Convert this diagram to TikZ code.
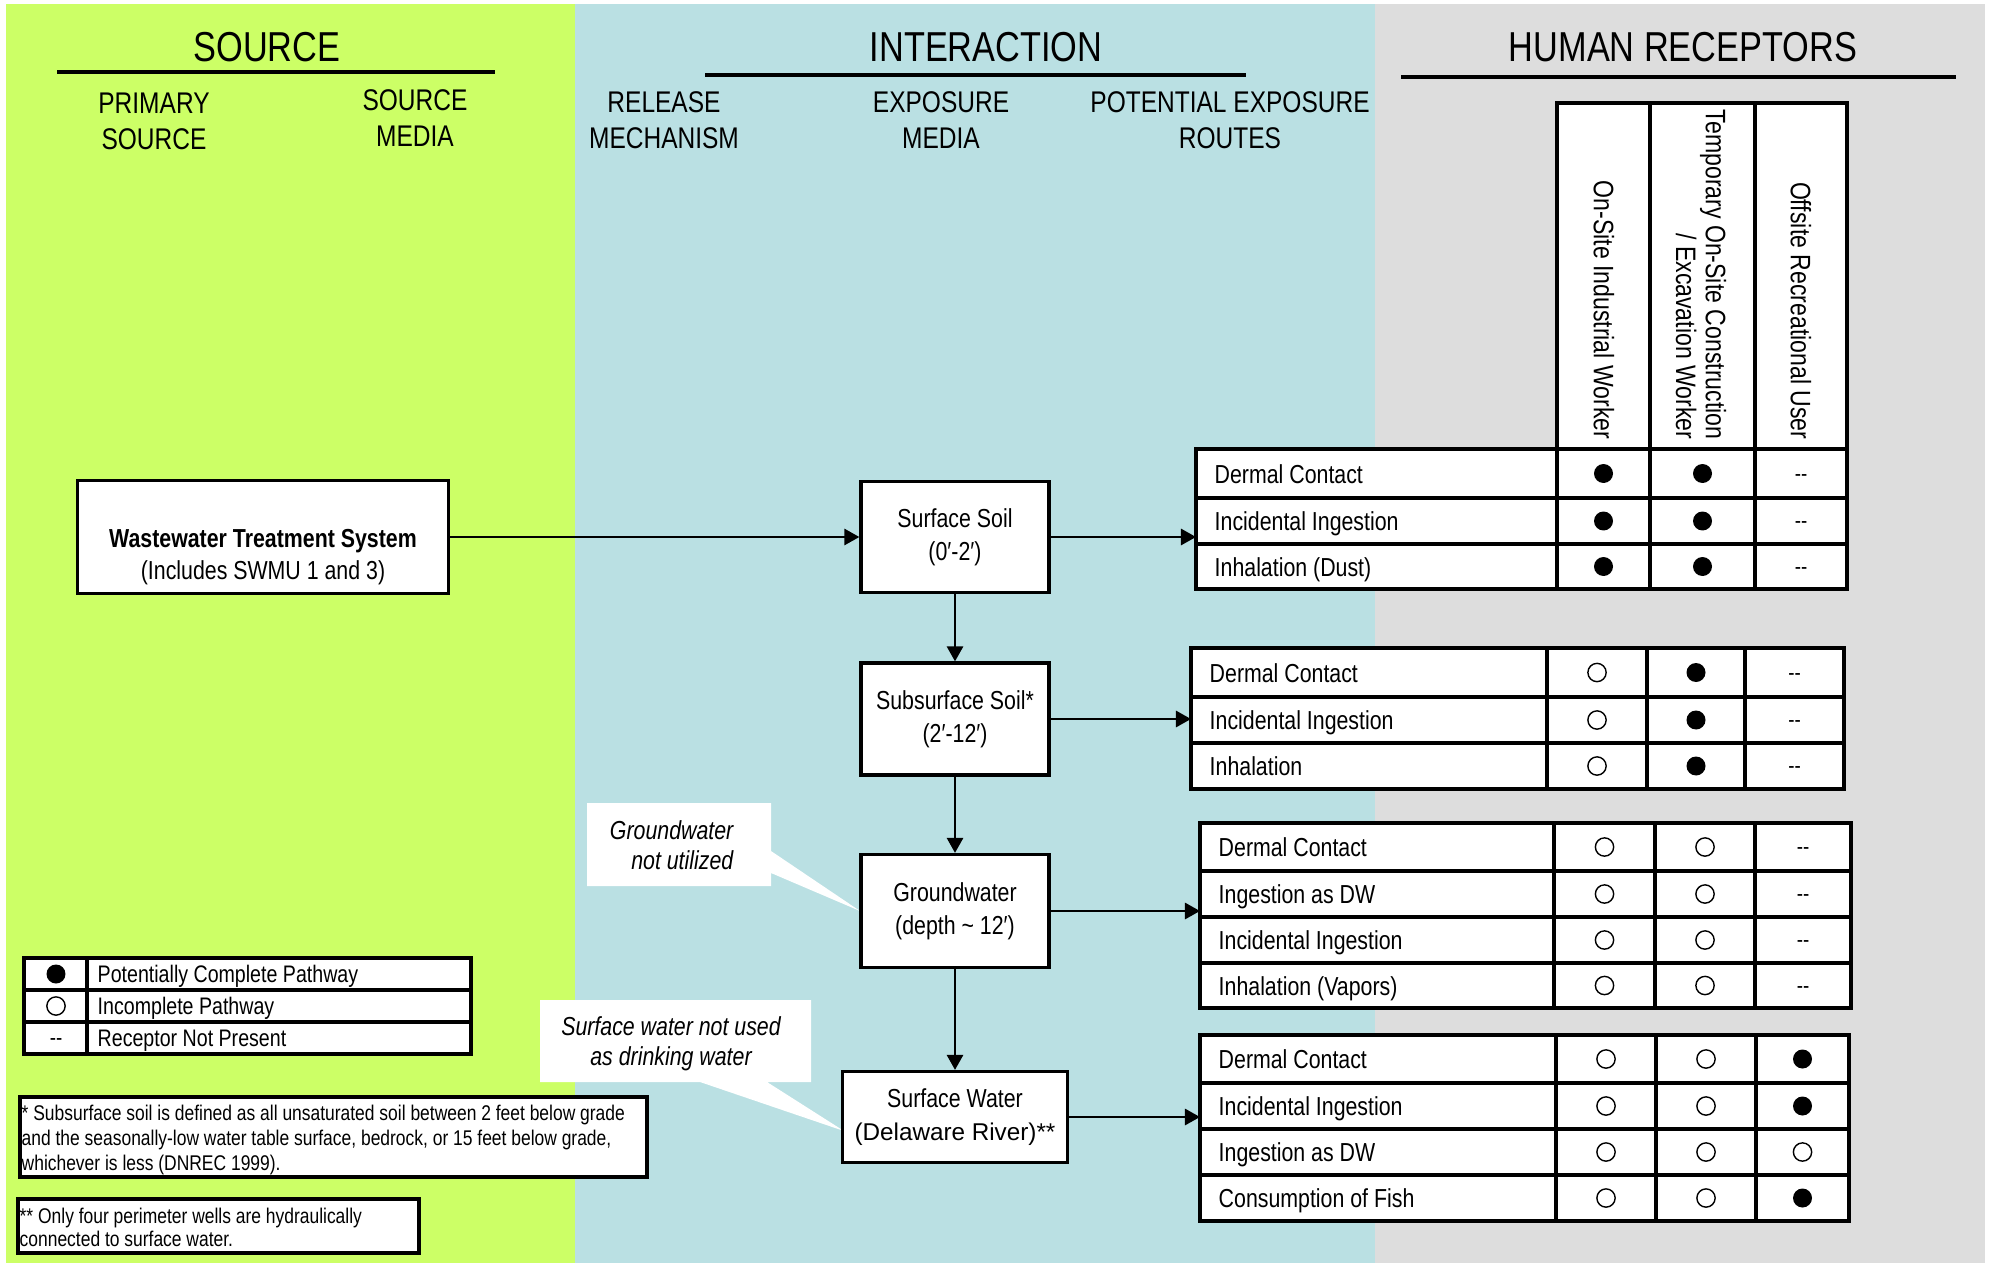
\documentclass[tikz,border=0pt]{standalone}
\usepackage{fontspec}
\setmainfont{Liberation Sans}[FakeStretch=0.82]
\newfontfamily\widefont{Liberation Sans}
\usetikzlibrary{arrows.meta,positioning}
\definecolor{sourcegreen}{RGB}{204,255,102}
\definecolor{interblue}{RGB}{186,224,227}
\definecolor{receptorgray}{RGB}{221,221,221}
\tikzset{head/.style={inner sep=0,font=\fontsize{11.9}{14}\selectfont},
  subhead/.style={inner sep=0,align=center,font=\fontsize{8.5}{10.2}\selectfont},
  underline/.style={line width=0.95pt},
  media/.style={draw,fill=white,line width=0.9pt,inner sep=0,align=center,font=\fontsize{7.4}{9.4}\selectfont},
  flow/.style={-{Triangle[length=4.3pt,width=4.6pt]},line width=0.75pt},
  tableline/.style={line width=1pt},
  route/.style={anchor=base west,inner sep=0,font=\fontsize{7.4}{9}\selectfont},
  dotfull/.style={circle,fill=black,inner sep=0,minimum size=5.4pt},
  dotopen/.style={circle,draw,line width=0.4pt,inner sep=0,minimum size=5.2pt},
  dotnone/.style={inner sep=0,font=\fontsize{6.5}{7}\selectfont},
  rothead/.style={rotate=-90,anchor=east,align=right,inner sep=0,font=\fontsize{8}{8.5}\selectfont},
  callout/.style={inner sep=0,font=\fontsize{7.4}{8.5}\selectfont\itshape},
  legendtext/.style={anchor=base west,inner sep=0,font=\fontsize{6.8}{8}\selectfont},
  footnote/.style={anchor=north west,inner sep=0,align=left,font=\fontsize{6.05}{7.1}\selectfont}}

\begin{document}
\begin{tikzpicture}[x=0.01cm,y=-0.01cm]

\useasboundingbox (0,0) rectangle (1992,1264);

% The three bands
\fill[sourcegreen] (6,4) rectangle (575,1263);
\fill[interblue] (575,4) rectangle (1375,1263);
\fill[receptorgray] (1375,4) rectangle (1985,1263);

% Headings
\node[head] (source-head) at (267,47) {SOURCE};
\node[head] (interaction-head) at (986,47) {INTERACTION};
\node[head] (receptor-head) at (1683,47) {HUMAN RECEPTORS};
\draw[underline] (57,72) -- (495,72);
\draw[underline] (705,75) -- (1246,75);
\draw[underline] (1401,77) -- (1956,77);

\node[subhead] (primary-head) at (154,121) {PRIMARY\\SOURCE};
\node[subhead] (smedia-head) at (415,118) {SOURCE\\MEDIA};
\node[subhead] (release-head) at (664,120) {RELEASE\\MECHANISM};
\node[subhead] (emedia-head) at (941,120) {EXPOSURE\\MEDIA};
\node[subhead] (routes-head) at (1230,120) {POTENTIAL EXPOSURE\\ROUTES};

% Callouts
\fill[white] (587,803) -- (771,803) -- (771,851) -- (860,911) -- (771,873) -- (771,886) -- (587,886) -- cycle;
\node[callout,anchor=east,align=right] (gw-note) at (734,845) {Groundwater\\not utilized};
\fill[white] (540,1000) -- (811,1000) -- (811,1082) -- (767,1082) -- (844,1131) -- (700,1082) -- (540,1082) -- cycle;
\node[callout,align=center] (sw-note) at (671,1044) {Surface water not used\\as drinking water};

% Source and media boxes
\node[media,minimum width=3.70cm,minimum height=1.13cm] (wts) at (263,537) {};
\node[inner sep=0,align=center,font=\fontsize{7.4}{9.2}\selectfont] (wts-text) at (263,557)
  {\textbf{Wastewater Treatment System}\\(Includes SWMU 1 and 3)};
\node[media,minimum width=1.88cm,minimum height=1.11cm] (surface-soil) at (955,537) {Surface Soil\\(0′-2′)};
\node[media,minimum width=1.88cm,minimum height=1.12cm] (subsurface-soil) at (955,719) {Subsurface Soil*\\(2′-12′)};
\node[media,minimum width=1.88cm,minimum height=1.13cm] (groundwater) at (955,911) {Groundwater\\(depth \textasciitilde\ 12′)};
\node[media,minimum width=2.25cm,minimum height=0.91cm] (surface-water) at (955,1117)
  {Surface Water\\{\widefont\fontsize{6.9}{9}\selectfont (Delaware River)**}};

% Table inlets
\coordinate (t1-in) at (1196,537);
\coordinate (t2-in) at (1191,719);
\coordinate (t3-in) at (1200,911);
\coordinate (t4-in) at (1200,1117);

% Pathways
\draw[flow] (wts) -- (surface-soil);
\draw[flow] (surface-soil) -- (subsurface-soil);
\draw[flow] (subsurface-soil) -- (groundwater);
\draw[flow] (groundwater) -- (surface-water);
\draw[flow] (surface-soil) -- (t1-in);
\draw[flow] (subsurface-soil) -- (t2-in);
\draw[flow] (groundwater) -- (t3-in);
\draw[flow] (surface-water) -- (t4-in);

% Receptor heading cells
\draw[tableline,fill=white] (1557,103) rectangle (1847,449);
\draw[tableline] (1650,103) -- (1650,449);
\draw[tableline] (1755,103) -- (1755,449);
\node[rothead] (industrial) at (1604,440) {On-Site Industrial Worker};
\node[rothead] (construction) at (1701,440) {Temporary On-Site Construction\\/ Excavation Worker};
\node[rothead] (recreational) at (1801,440) {Offsite Recreational User};

% Table 1: surface soil
\draw[tableline,fill=white] (1196,449) rectangle (1847,589);
\draw[tableline] (1557,449) -- (1557,589) (1650,449) -- (1650,589) (1755,449) -- (1755,589);
\draw[tableline] (1196,498) -- (1847,498) (1196,544) -- (1847,544);
\node[route] (t1-dermal) at (1214,483) {Dermal Contact};
\node[dotfull] (t1-dermal-a) at (1603.5,473.5) {}; \node[dotfull] (t1-dermal-b) at (1702.5,473.5) {}; \node[dotnone] (t1-dermal-c) at (1801,478) {-{}-};
\node[route] (t1-ingest) at (1214,530) {Incidental Ingestion};
\node[dotfull] (t1-ingest-a) at (1603.5,521) {}; \node[dotfull] (t1-ingest-b) at (1702.5,521) {}; \node[dotnone] (t1-ingest-c) at (1801,525.5) {-{}-};
\node[route] (t1-inhale) at (1214,576) {Inhalation (Dust)};
\node[dotfull] (t1-inhale-a) at (1603.5,566.5) {}; \node[dotfull] (t1-inhale-b) at (1702.5,566.5) {}; \node[dotnone] (t1-inhale-c) at (1801,571) {-{}-};

% Table 2: subsurface soil
\draw[tableline,fill=white] (1191,648) rectangle (1844,789);
\draw[tableline] (1547,648) -- (1547,789) (1647,648) -- (1647,789) (1745,648) -- (1745,789);
\draw[tableline] (1191,697) -- (1844,697) (1191,743) -- (1844,743);
\node[route] (t2-dermal) at (1209,682) {Dermal Contact};
\node[dotopen] (t2-dermal-a) at (1597,672.5) {}; \node[dotfull] (t2-dermal-b) at (1696,672.5) {}; \node[dotnone] (t2-dermal-c) at (1794.5,677) {-{}-};
\node[route] (t2-ingest) at (1209,729) {Incidental Ingestion};
\node[dotopen] (t2-ingest-a) at (1597,720) {}; \node[dotfull] (t2-ingest-b) at (1696,720) {}; \node[dotnone] (t2-ingest-c) at (1794.5,724.5) {-{}-};
\node[route] (t2-inhale) at (1209,775) {Inhalation};
\node[dotopen] (t2-inhale-a) at (1597,766) {}; \node[dotfull] (t2-inhale-b) at (1696,766) {}; \node[dotnone] (t2-inhale-c) at (1794.5,770.5) {-{}-};

% Table 3: groundwater
\draw[tableline,fill=white] (1200,823) rectangle (1851,1008);
\draw[tableline] (1554,823) -- (1554,1008) (1655,823) -- (1655,1008) (1755,823) -- (1755,1008);
\draw[tableline] (1200,871) -- (1851,871) (1200,917) -- (1851,917) (1200,963) -- (1851,963);
\node[route] (t3-dermal) at (1218,856) {Dermal Contact};
\node[dotopen] (t3-dermal-a) at (1604.5,847) {}; \node[dotopen] (t3-dermal-b) at (1705,847) {}; \node[dotnone] (t3-dermal-c) at (1803,851.5) {-{}-};
\node[route] (t3-drink) at (1218,903) {Ingestion as DW};
\node[dotopen] (t3-drink-a) at (1604.5,894) {}; \node[dotopen] (t3-drink-b) at (1705,894) {}; \node[dotnone] (t3-drink-c) at (1803,898.5) {-{}-};
\node[route] (t3-ingest) at (1218,949) {Incidental Ingestion};
\node[dotopen] (t3-ingest-a) at (1604.5,940) {}; \node[dotopen] (t3-ingest-b) at (1705,940) {}; \node[dotnone] (t3-ingest-c) at (1803,944.5) {-{}-};
\node[route] (t3-inhale) at (1218,995) {Inhalation (Vapors)};
\node[dotopen] (t3-inhale-a) at (1604.5,985.5) {}; \node[dotopen] (t3-inhale-b) at (1705,985.5) {}; \node[dotnone] (t3-inhale-c) at (1803,990) {-{}-};

% Table 4: surface water
\draw[tableline,fill=white] (1200,1035) rectangle (1849,1221);
\draw[tableline] (1556,1035) -- (1556,1221) (1656,1035) -- (1656,1221) (1756,1035) -- (1756,1221);
\draw[tableline] (1200,1083) -- (1849,1083) (1200,1129) -- (1849,1129) (1200,1175) -- (1849,1175);
\node[route] (t4-dermal) at (1218,1068) {Dermal Contact};
\node[dotopen] (t4-dermal-a) at (1606,1059) {}; \node[dotopen] (t4-dermal-b) at (1706,1059) {}; \node[dotfull] (t4-dermal-c) at (1802.5,1059) {};
\node[route] (t4-ingest) at (1218,1115) {Incidental Ingestion};
\node[dotopen] (t4-ingest-a) at (1606,1106) {}; \node[dotopen] (t4-ingest-b) at (1706,1106) {}; \node[dotfull] (t4-ingest-c) at (1802.5,1106) {};
\node[route] (t4-drink) at (1218,1161) {Ingestion as DW};
\node[dotopen] (t4-drink-a) at (1606,1152) {}; \node[dotopen] (t4-drink-b) at (1706,1152) {}; \node[dotopen] (t4-drink-c) at (1802.5,1152) {};
\node[route] (t4-fish) at (1218,1207) {Consumption of Fish};
\node[dotopen] (t4-fish-a) at (1606,1198) {}; \node[dotopen] (t4-fish-b) at (1706,1198) {}; \node[dotfull] (t4-fish-c) at (1802.5,1198) {};

% Legend
\draw[tableline,fill=white] (24,958) rectangle (471,1054);
\draw[tableline] (87,958) -- (87,1054) (24,990) -- (471,990) (24,1022) -- (471,1022);
\node[dotfull] (key-full) at (56,974) {};
\node[dotopen] (key-open) at (56,1006) {};
\node[dotnone] (key-none) at (56,1042) {-{}-};
\node[legendtext] (key-full-text) at (97,982.5) {Potentially Complete Pathway};
\node[legendtext] (key-open-text) at (97,1014.5) {Incomplete Pathway};
\node[legendtext] (key-none-text) at (97,1046.5) {Receptor Not Present};

% Footnotes
\draw[line width=0.9pt,fill=white] (20,1097) rectangle (647,1177);
\node[footnote] (soil-note) at (21,1104) {* Subsurface soil is defined as all unsaturated soil between 2 feet below grade\\
  and the seasonally-low water table surface, bedrock, or 15 feet below grade,\\whichever is less (DNREC 1999).};
\draw[line width=0.9pt,fill=white] (18,1199) rectangle (419,1253);
\node[footnote,font=\fontsize{6.05}{6.6}\selectfont] (well-note) at (19,1207) {** Only four perimeter wells are hydraulically\\connected to surface water.};

\end{tikzpicture}
\end{document}
